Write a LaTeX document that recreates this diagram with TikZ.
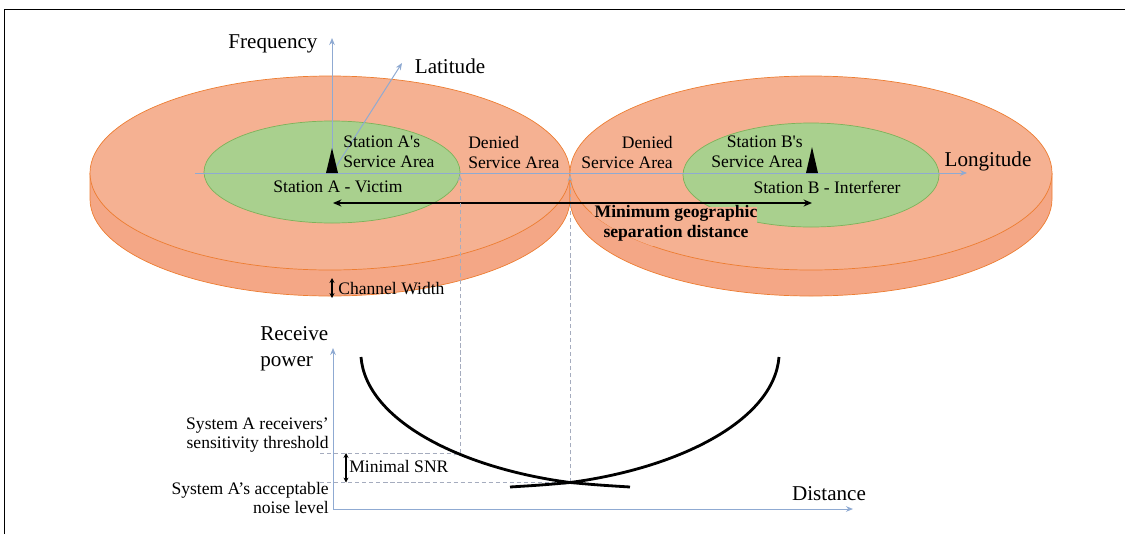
\documentclass[tikz,border=0pt]{standalone}
\usepackage{fontspec}
\setmainfont{Liberation Serif}
\usetikzlibrary{arrows.meta}
\definecolor{disktop}{RGB}{245,177,146}
\definecolor{diskside}{RGB}{244,167,134}
\definecolor{diskedge}{RGB}{237,125,49}
\definecolor{servfill}{RGB}{169,208,142}
\definecolor{servedge}{RGB}{125,178,90}
\definecolor{axisblue}{RGB}{143,170,210}
\definecolor{guidegray}{RGB}{165,172,190}
\tikzset{
  txt/.style={inner sep=0pt, font=\fontsize{12.5}{14.2}\selectfont},
  txtlow/.style={inner sep=0pt, font=\fontsize{12.5}{13.2}\selectfont},
  axtxt/.style={inner sep=0pt, font=\fontsize{15}{18.5}\selectfont},
  axisline/.style={axisblue, line width=0.7pt, -{Stealth[length=5pt,width=4pt]}},
  guide/.style={guidegray, line width=0.6pt, dash pattern=on 3pt off 2pt},
  guidearrow/.style={guide, -{Stealth[length=4.5pt,width=3.5pt]}},
  diskface/.style={draw=diskedge, line width=0.5pt},
  servarea/.style={fill=servfill, draw=servedge, line width=0.5pt},
  sepline/.style={line width=0.9pt, {Stealth[length=6pt,width=5pt]}-{Stealth[length=6pt,width=5pt]}},
  smallspan/.style={line width=0.8pt, {Stealth[length=3.5pt,width=3.5pt]}-{Stealth[length=3.5pt,width=3.5pt]}},
  powercurve/.style={line width=2pt},
}
\begin{document}
\begin{tikzpicture}[x=0.025cm, y=-0.025cm]
    \useasboundingbox (0,0) rectangle (1125,534);
    %%frame
    \draw[line width=1.1pt] (4.7,534) -- (4.7,9.5) -- (1125,9.5);
    %%disks
    \filldraw[diskface, fill=diskside] (90,173) -- (90,199) arc[start angle=180, end angle=0, x radius=240, y radius=97] -- (570,173);
    \filldraw[diskface, fill=disktop] (330,173) ellipse [x radius=240, y radius=97];
    \filldraw[diskface, fill=diskside] (570,173) -- (570,199) arc[start angle=180, end angle=0, x radius=241, y radius=97] -- (1052,173);
    \filldraw[diskface, fill=disktop] (811,173) ellipse [x radius=241, y radius=97];
    \filldraw[servarea] (332,172) ellipse [x radius=128, y radius=51];
    \filldraw[servarea] (811,175) ellipse [x radius=128, y radius=52];
    %%box behind the bold label, kept inside disk B
    \begin{scope}
        \clip (811,173) ellipse [x radius=241, y radius=97];
        \fill[disktop] (592,207) rectangle (757,246);
    \end{scope}
    %%points
    \coordinate (oA) at (332,173);
    \coordinate (freqTip) at (332,38);
    \coordinate (latTip) at (402,63);
    \coordinate (lonStart) at (195,173);
    \coordinate (lonTip) at (967,173);
    \coordinate (edgeA) at (460,175);
    \coordinate (touch) at (570,175);
    \coordinate (sepA) at (333,203);
    \coordinate (sepB) at (812,203);
    \coordinate (chanTop) at (332,278);
    \coordinate (chanBot) at (332,298);
    \coordinate (pO) at (333,509);
    \coordinate (pTop) at (333,348);
    \coordinate (pEnd) at (853,509);
    \coordinate (thrL) at (320,453);
    \coordinate (thrA) at (460,453);
    \coordinate (noiseL) at (320,482.5);
    \coordinate (cross) at (570,482.5);
    \coordinate (snrTop) at (346,453);
    \coordinate (snrBot) at (346,482.5);
    %%axes
    \draw[axisline] (lonStart) -- (lonTip);
    \draw[axisline] (oA) -- (freqTip);
    \draw[axisline] (oA) -- (latTip);
    \draw[axisline] (pO) -- (pTop);
    \draw[axisline] (pO) -- (pEnd);
    %%antennas
    \fill (326,173) -- (332,148) -- (338,173) -- cycle;
    \fill (806,173) -- (812,147) -- (818,173) -- cycle;
    \draw[sepline] (sepA) -- (sepB);
    \draw[smallspan] (chanTop) -- (chanBot);
    %%guides
    \draw[guidearrow] (thrA) -- (edgeA);
    \draw[guidearrow] (cross) -- (touch);
    \draw[guidearrow] (thrL) -- (thrA);
    \draw[guidearrow] (noiseL) -- (cross);
    \draw[smallspan] (snrTop) -- (snrBot);
    %%receive power curves
    \draw[powercurve] (361,357) .. controls (366,420) and (460,468) .. (cross) .. controls (598,485) .. (630,487);
    \draw[powercurve] (510,487) .. controls (542,485) .. (cross) .. controls (680,468) and (774,420) .. (779,357);
    %%texts
    \node[txt, font=\fontsize{12.5}{14.2}\selectfont\bfseries, align=center] (minsep) at (676,223.5) {Minimum geographic\\separation distance};
    \node[axtxt] (freq) at (273,44) {Frequency};
    \node[axtxt] (lat) at (450,66) {Latitude};
    \node[axtxt] (lon) at (988,161) {Longitude};
    \node[txt, align=left, anchor=west] (servA) at (343,152) {Station A\textquotesingle s\\Service Area};
    \node[txt] (victim) at (338,187) {Station A - Victim};
    \node[txt, align=left, anchor=west] (deniedA) at (468,152) {Denied\\Service Area};
    \node[txt, align=right, anchor=east] (deniedB) at (673,152) {Denied\\Service Area};
    \node[txt, align=right, anchor=east] (servB) at (803,152) {Station B\textquotesingle s\\Service Area};
    \node[txt] (interf) at (827,187) {Station B - Interferer};
    \node[txt, anchor=west] (chanW) at (338,288.5) {Channel Width};
    \node[axtxt, align=left, anchor=west] (rxpow) at (260,349) {Receive\\power};
    \node[txtlow, align=right, anchor=east] (thresh) at (329,435) {System A receivers’\\sensitivity threshold};
    \node[txtlow, align=right, anchor=east] (noise) at (329,498) {System A’s acceptable\\noise level};
    \node[txt, anchor=west] (snr) at (349,466.5) {Minimal SNR};
    \node[axtxt] (dist) at (829,493.5) {Distance};
\end{tikzpicture}
\end{document}
